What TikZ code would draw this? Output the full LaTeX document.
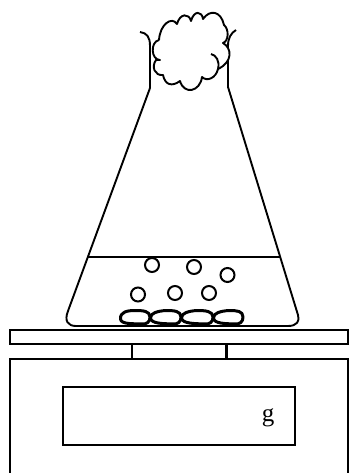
\documentclass[tikz,border=0pt]{standalone}
\usepackage{xcolor}
\usepackage{fontspec}
\usepackage{tikz}
\setmainfont{Liberation Serif}
\tikzset{
  glass/.style={line width=1.9pt, line join=round},
  scalepart/.style={line width=2.4pt},
  bubble/.style={draw, line width=2pt, circle, minimum size=14pt, inner sep=0pt},
  rock/.style={line width=3pt, line join=round},
}

\begin{document}
\begin{tikzpicture}[x=1pt, y=-1pt]
\useasboundingbox (0,0) rectangle (349,473);

% flask
\draw[glass] (140,32) .. controls (147,33) and (150,37) .. (150,46) -- (150,88) -- (68,311)
  .. controls (64,321) and (68,326) .. (76,326) -- (288,326)
  .. controls (297,326) and (300,321) .. (298,315) -- (228,87) -- (228,46)
  .. controls (228,38) and (231,33) .. (236,30);
\draw[glass] (88,257) -- (281,257);

% bubbles
\node[bubble] (b1) at (152,265) {};
\node[bubble] (b2) at (194,267) {};
\node[bubble] (b3) at (227.5,275) {};
\node[bubble] (b4) at (138,294.5) {};
\node[bubble] (b5) at (175,293) {};
\node[bubble] (b6) at (209,293) {};

% rocks
\draw[rock] (120.5,319) .. controls (120,312) and (127,310.5) .. (135,310.5)
  .. controls (143,310.5) and (150,311) .. (150,317) .. controls (150,322) and (147,324.5) .. (141,324)
  .. controls (133,323.5) and (121,324.5) .. (120.5,319) -- cycle;
\draw[rock] (150.5,318) .. controls (150,313) and (158,311) .. (166,310.5)
  .. controls (174,310.5) and (181,311) .. (181,317) .. controls (181,322) and (178,324.5) .. (172,324)
  .. controls (164,323.5) and (151,324) .. (150.5,318) -- cycle;
\draw[rock] (181.5,318) .. controls (181,313) and (189,311) .. (197,310.5)
  .. controls (205,310.5) and (213,311) .. (213,317) .. controls (213,322) and (210,324.5) .. (204,324)
  .. controls (196,323.5) and (182,324) .. (181.5,318) -- cycle;
\draw[rock] (213.5,318) .. controls (213,313) and (221,311) .. (229,310.5)
  .. controls (237,310.5) and (243,311) .. (243,317) .. controls (243,322) and (240,324.5) .. (234,324)
  .. controls (226,323.5) and (214,324) .. (213.5,318) -- cycle;

% cloud in the neck
\draw[fill=white, line width=1.9pt, line join=round] (159,40)
  .. controls (160,24) and (172,16) .. (177,24)
  .. controls (180,13) and (189,13) .. (191,21)
  .. controls (194,10) and (202,11) .. (203,19)
  .. controls (210,9) and (221,11) .. (224,25)
  .. controls (229,29) and (229,41) .. (223,43)
  .. controls (232,48) and (233,62) .. (218,69)
  .. controls (216,78) and (207,82) .. (202,77)
  .. controls (200,92) and (184,95) .. (180,81)
  .. controls (172,87) and (165,85) .. (163,75)
  .. controls (155,76) and (151,67) .. (156,60)
  -- (160,60)
  .. controls (151,60) and (150,42) .. (159,40);
\draw[line width=1.9pt] (211,54) .. controls (216,55) and (220,61) .. (218,69);

% balance
\draw[scalepart] (10,330) rectangle (348,344);
\draw[scalepart] (132,344) rectangle (226.5,359);
\draw[scalepart] (10,473) -- (10,359) -- (348,359) -- (348,473);
\draw[scalepart] (63,387) rectangle (295,445);
\node[font=\fontsize{25}{25}\selectfont] (unit) at (268,418) {g};

\end{tikzpicture}
\end{document}
